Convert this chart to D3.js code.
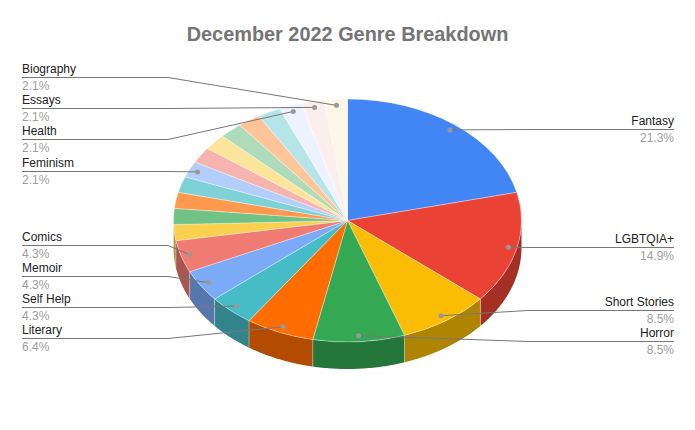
<!DOCTYPE html>
<html>
<head>
<meta charset="utf-8">
<script src="https://cdn.jsdelivr.net/npm/d3@7"></script>
<style>
  html, body { margin: 0; padding: 0; background: #fff; }
  svg { display: block; font-family: "Liberation Sans", Arial, sans-serif; }
</style>
</head>
<body>
<script>
// Chart data. Slices without a name have no label in the chart.
var genres = ["Fantasy", "LGBTQIA+", "Short Stories", "Horror", "Literary", "Self Help", "Memoir", "Comics",
              "", "", "", "", "Feminism", "", "", "", "", "", "Health", "Essays", "Biography"];
var books = [10, 7, 4, 4, 3, 2, 2, 2, 1, 1, 1, 1, 1, 1, 1, 1, 1, 1, 1, 1, 1];

var palette = ["#4285f4", "#ea4335", "#fbbc04", "#34a853", "#ff6d01", "#46bdc6", "#7baaf7", "#f07b72",
               "#fcd04f", "#71c287", "#ff994d", "#7ed1d7", "#b3cefb", "#f7b4ae", "#fde49b", "#aedcba",
               "#ffc599", "#b5e5e8", "#ecf3fe", "#fdeeee", "#fff7e6"];

var width = 695, height = 430;
var cx = 347.5, cy = 220.5, rx = 174, ry = 121.5, depth = 27;
var dotRadius = 0.95, rowGap = 31;

var svg = d3.select("body").append("svg")
    .attr("width", width)
    .attr("height", height);

svg.append("text")
    .attr("x", cx)
    .attr("y", 41)
    .attr("text-anchor", "middle")
    .attr("font-size", 19.9)
    .attr("font-weight", "bold")
    .attr("fill", "#757575")
    .text("December 2022 Genre Breakdown");

var total = d3.sum(books);
var slices = d3.pie().sort(null)(books);
var pct = d3.format(".1%");

// Point on the tilted ellipse, angle clockwise from north
function px(a, k) { return cx + rx * k * Math.sin(a); }
function py(a, k) { return cy - ry * k * Math.cos(a); }

// Wall colour is the slice colour in shade
function shade(c) {
  var rgb = d3.rgb(c);
  return d3.rgb(rgb.r * 0.7, rgb.g * 0.7, rgb.b * 0.7).formatHex();
}

// ****************** Side wall ***************************
// Only the front half of the rim (east round to west) can be seen
var front0 = Math.PI / 2, front1 = Math.PI * 1.5;

var wall = d3.area()
    .x(function(a) { return px(a, 1); })
    .y0(function(a) { return py(a, 1); })
    .y1(function(a) { return py(a, 1) + depth; });

slices.forEach(function(d, i) {
  var a0 = Math.max(d.startAngle, front0),
      a1 = Math.min(d.endAngle, front1);
  if (a1 <= a0) return;

  var steps = d3.range(0, 41).map(function(t) { return a0 + (a1 - a0) * t / 40; });

  svg.append("path")
      .attr("d", wall(steps))
      .attr("fill", shade(palette[i]));

  // light seam where two slices meet on the wall
  if (d.startAngle > front0 && d.startAngle < front1) {
    svg.append("line")
        .attr("x1", px(d.startAngle, 1))
        .attr("x2", px(d.startAngle, 1))
        .attr("y1", py(d.startAngle, 1))
        .attr("y2", py(d.startAngle, 1) + depth)
        .attr("stroke", "#fff")
        .attr("stroke-opacity", 0.35)
        .attr("stroke-width", 1);
  }
});

// ****************** Top face ***************************
var arc = d3.arc().innerRadius(0).outerRadius(rx);

svg.append("g")
    .attr("transform", "translate(" + cx + "," + cy + ") scale(1," + (ry / rx) + ")")
  .selectAll("path")
    .data(slices)
  .enter().append("path")
    .attr("d", arc)
    .attr("fill", function(d, i) { return palette[i]; })
    .attr("stroke", "#fff")
    .attr("stroke-opacity", 0.5)
    .attr("stroke-width", 0.7)
    .attr("vector-effect", "non-scaling-stroke");

// ****************** Labels ***************************
var labels = slices
    .map(function(d, i) {
      var mid = (d.startAngle + d.endAngle) / 2;
      return {
        name: genres[i],
        value: books[i] / total,
        right: mid < Math.PI,
        dotX: px(mid, dotRadius),
        dotY: py(mid, dotRadius)
      };
    })
    .filter(function(d) { return d.name; });

// Spread the rows on each side so they stay rowGap apart
function placeRows(rows) {
  rows.sort(function(a, b) { return a.dotY - b.dotY; });
  var groups = rows.map(function(r) { return [r]; });
  var merged = true;
  function centre(g) { return d3.mean(g, function(r) { return r.dotY; }); }
  while (merged) {
    merged = false;
    for (var i = 0; i < groups.length - 1; i++) {
      var a = groups[i], b = groups[i + 1];
      var bottomA = centre(a) + (a.length - 1) * rowGap / 2,
          topB = centre(b) - (b.length - 1) * rowGap / 2;
      if (topB - bottomA < rowGap) {
        groups.splice(i, 2, a.concat(b));
        merged = true;
        break;
      }
    }
  }
  groups.forEach(function(g) {
    // the big lower-left group sits a pixel high in the original
    var nudge = g.length > 3 ? -1 : 0;
    g.forEach(function(r, i) {
      var y = centre(g) + nudge + (i - (g.length - 1) / 2) * rowGap;
      r.rowY = Math.floor(y) + 0.5;
    });
  });
}
placeRows(labels.filter(function(d) { return d.right; }));
placeRows(labels.filter(function(d) { return !d.right; }));

var leftEdge = 22, rightEdge = 674, leftElbow = 168, rightElbow = 528;

var label = svg.selectAll("g.label")
    .data(labels)
  .enter().append("g")
    .attr("class", "label");

label.append("polyline")
    .attr("points", function(d) {
      return d.dotX + "," + d.dotY + " " +
        (d.right ? rightElbow : leftElbow) + "," + d.rowY + " " +
        (d.right ? rightEdge : leftEdge) + "," + d.rowY;
    })
    .attr("fill", "none")
    .attr("stroke", "#777")
    .attr("stroke-width", 1);

label.append("circle")
    .attr("cx", function(d) { return d.dotX; })
    .attr("cy", function(d) { return d.dotY; })
    .attr("r", 2.5)
    .attr("fill", "#999");

label.append("text")
    .attr("x", function(d) { return d.right ? rightEdge : leftEdge; })
    .attr("y", function(d) { return d.rowY - 4.5; })
    .attr("text-anchor", function(d) { return d.right ? "end" : "start"; })
    .attr("font-size", 12)
    .attr("fill", "#222")
    .text(function(d) { return d.name; });

label.append("text")
    .attr("x", function(d) { return d.right ? rightEdge : leftEdge; })
    .attr("y", function(d) { return d.rowY + 12.5; })
    .attr("text-anchor", function(d) { return d.right ? "end" : "start"; })
    .attr("font-size", 12)
    .attr("fill", "#9e9e9e")
    .text(function(d) { return pct(d.value); });
</script>
</body>
</html>
